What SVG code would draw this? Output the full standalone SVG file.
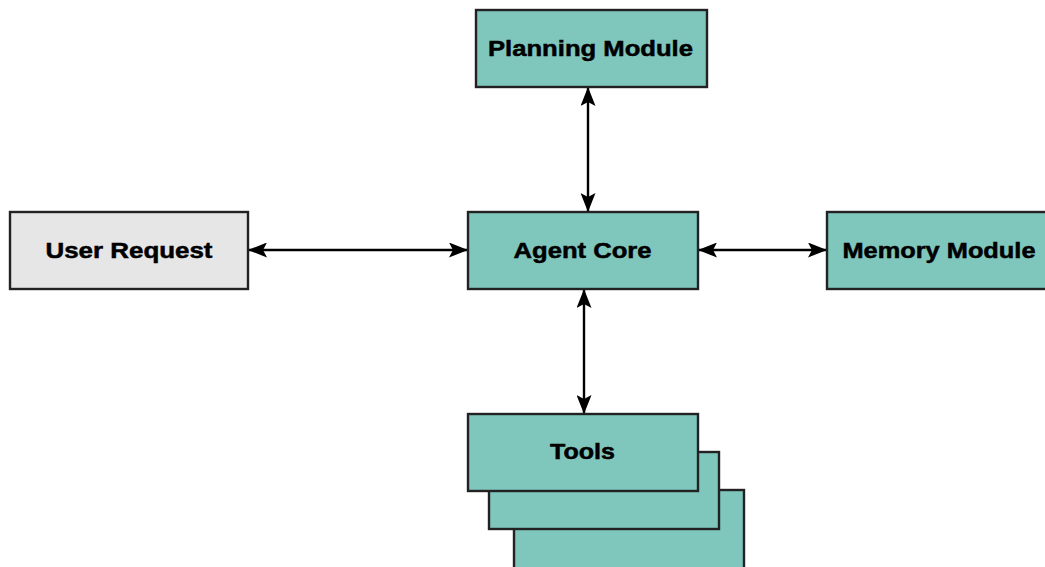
<svg xmlns="http://www.w3.org/2000/svg" width="1045" height="567" viewBox="0 0 1045 567">
  <style>
    .box { fill: #7fc6bc; stroke: #222222; stroke-width: 2.4; }
    .grey { fill: #e6e6e6; stroke: #222222; stroke-width: 2.4; }
    .lbl { font-family: "Liberation Sans", Arial, sans-serif; font-weight: bold; font-size: 22px; fill: #000000; stroke: #000000; stroke-width: 0.5; text-anchor: middle; }
    .conn { stroke: #000000; stroke-width: 2.4; fill: none; marker-start: url(#ah); marker-end: url(#ah); }
  </style>
  <defs>
    <marker id="ah" viewBox="0 0 19 15" refX="18" refY="7.5" markerWidth="19" markerHeight="15" markerUnits="userSpaceOnUse" orient="auto-start-reverse">
      <path d="M0,0 L19,7.5 L0,15 L4,7.5 Z" fill="#000000"/>
    </marker>
  </defs>
  <rect x="0" y="0" width="1045" height="567" fill="#ffffff"/>

  <g id="connectors">
    <line class="conn" x1="588" y1="88" x2="588" y2="211"/>
    <line class="conn" x1="584" y1="290" x2="584" y2="413"/>
    <line class="conn" x1="249" y1="250" x2="467" y2="250"/>
    <line class="conn" x1="699" y1="250" x2="826" y2="250"/>
  </g>

  <g id="planning-module">
    <rect class="box" x="476" y="10" width="231" height="77"/>
    <text class="lbl" x="590.5" y="56" textLength="205" lengthAdjust="spacingAndGlyphs">Planning Module</text>
  </g>

  <g id="user-request">
    <rect class="grey" x="10" y="212" width="238" height="77"/>
    <text class="lbl" x="129" y="258" textLength="167" lengthAdjust="spacingAndGlyphs">User Request</text>
  </g>

  <g id="agent-core">
    <rect class="box" x="468" y="212" width="230" height="77"/>
    <text class="lbl" x="582.5" y="258" textLength="138" lengthAdjust="spacingAndGlyphs">Agent Core</text>
  </g>

  <g id="memory-module">
    <rect class="box" x="827" y="212" width="230" height="77"/>
    <text class="lbl" x="939" y="258" textLength="193" lengthAdjust="spacingAndGlyphs">Memory Module</text>
  </g>

  <g id="tools">
    <rect class="box" x="514" y="490" width="230" height="90"/>
    <rect class="box" x="489" y="452" width="230" height="77"/>
    <rect class="box" x="468" y="414" width="230" height="77"/>
    <text class="lbl" x="582.5" y="459" textLength="65" lengthAdjust="spacingAndGlyphs">Tools</text>
  </g>
</svg>
